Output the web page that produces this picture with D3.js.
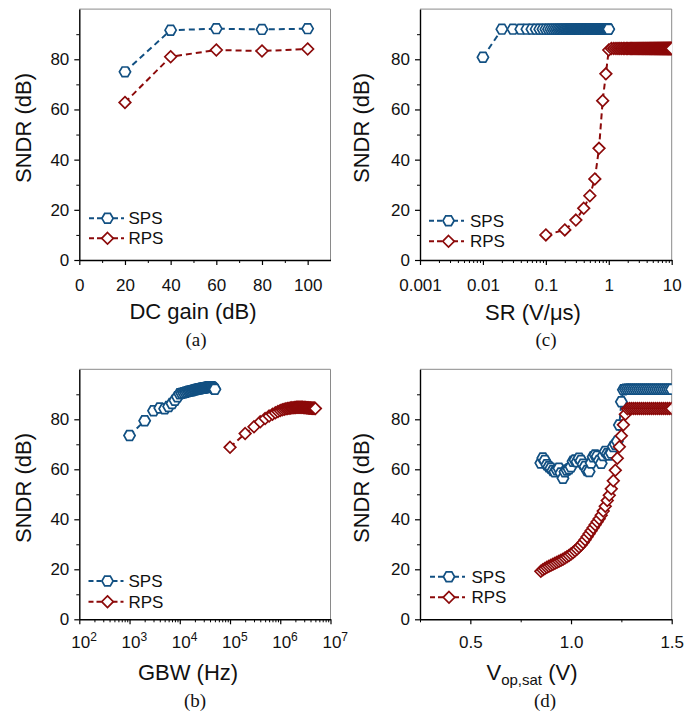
<!DOCTYPE html>
<html><head><meta charset="utf-8">
<script src="https://cdn.jsdelivr.net/npm/d3@7"></script>
<style>body{margin:0;background:#fff}svg{display:block}</style>
</head><body>
<svg id="chart" width="700" height="715"></svg>
<script>
// ---------------- DATA ----------------
const yTickVals = [0, 20, 40, 60, 80];
const yMinorVals = [10, 30, 50, 70, 90];

// (a) DC gain
const dcGain = [20, 40, 60, 80, 100];
const dcSps = [75.0, 91.6, 92.2, 91.9, 92.2];
const dcRps = [62.8, 81.0, 83.7, 83.3, 84.1];
const dcTicks = [0, 20, 40, 60, 80, 100];
const dcMinor = [10, 30, 50, 70, 90];

// (c) slew rate
const srSpsX = [0.01,0.02,0.03,0.04,0.05,0.06,0.07,0.08,0.09,0.10,
  0.11,0.12,0.13,0.14,0.15,0.16,0.17,0.18,0.19,0.20,
  0.21,0.22,0.23,0.24,0.25,0.26,0.27,0.28,0.29,0.30,
  0.31,0.32,0.33,0.34,0.35,0.36,0.37,0.38,0.39,0.40,
  0.41,0.42,0.43,0.44,0.45,0.46,0.47,0.48,0.49,0.50,
  0.51,0.52,0.53,0.54,0.55,0.56,0.57,0.58,0.59,0.60,
  0.61,0.62,0.63,0.64,0.65,0.66,0.67,0.68,0.69,0.70,
  0.71,0.72,0.73,0.74,0.75,0.76,0.77,0.78,0.79,0.80,
  0.81,0.82,0.83,0.84,0.85,0.86,0.87,0.88,0.89,0.90,
  0.91,0.92,0.93,0.94,0.95,0.96,0.97,0.98,0.99,1.00];
const srSpsY = [80.8,92.0,92.0,92.0,92.0,92.0,92.0,92.0,92.0,92.0,
  92.0,92.0,92.0,92.0,92.0,92.0,92.0,92.0,92.0,92.0,
  92.0,92.0,92.0,92.0,92.0,92.0,92.0,92.0,92.0,92.0,
  92.0,92.0,92.0,92.0,92.0,92.0,92.0,92.0,92.0,92.0,
  92.0,92.0,92.0,92.0,92.0,92.0,92.0,92.0,92.0,92.0,
  92.0,92.0,92.0,92.0,92.0,92.0,92.0,92.0,92.0,92.0,
  92.0,92.0,92.0,92.0,92.0,92.0,92.0,92.0,92.0,92.0,
  92.0,92.0,92.0,92.0,92.0,92.0,92.0,92.0,92.0,92.0,
  92.0,92.0,92.0,92.0,92.0,92.0,92.0,92.0,92.0,92.0,
  92.0,92.0,92.0,92.0,92.0,92.0,92.0,92.0,92.0,92.0];
const srRpsX = [0.1,0.2,0.3,0.4,0.5,0.6,0.7,0.8,0.9,1.0,
  1.1,1.2,1.3,1.4,1.5,1.6,1.7,1.8,1.9,2.0,
  2.1,2.2,2.3,2.4,2.5,2.6,2.7,2.8,2.9,3.0,
  3.1,3.2,3.3,3.4,3.5,3.6,3.7,3.8,3.9,4.0,
  4.1,4.2,4.3,4.4,4.5,4.6,4.7,4.8,4.9,5.0,
  5.1,5.2,5.3,5.4,5.5,5.6,5.7,5.8,5.9,6.0,
  6.1,6.2,6.3,6.4,6.5,6.6,6.7,6.8,6.9,7.0,
  7.1,7.2,7.3,7.4,7.5,7.6,7.7,7.8,7.9,8.0,
  8.1,8.2,8.3,8.4,8.5,8.6,8.7,8.8,8.9,9.0,
  9.1,9.2,9.3,9.4,9.5,9.6,9.7,9.8,9.9,10.0];
const srRpsY = [10.0,12.0,15.9,20.6,25.6,32.3,44.5,63.5,74.2,83.7,
  84.3,84.3,84.3,84.3,84.3,84.3,84.3,84.3,84.3,84.3,
  84.3,84.3,84.3,84.3,84.3,84.3,84.3,84.3,84.3,84.3,
  84.3,84.3,84.3,84.3,84.3,84.3,84.3,84.3,84.3,84.3,
  84.3,84.3,84.3,84.3,84.3,84.3,84.3,84.3,84.3,84.3,
  84.3,84.3,84.3,84.3,84.3,84.3,84.3,84.3,84.3,84.3,
  84.3,84.3,84.3,84.3,84.3,84.3,84.3,84.3,84.3,84.3,
  84.3,84.3,84.3,84.3,84.3,84.3,84.3,84.3,84.3,84.3,
  84.3,84.3,84.3,84.3,84.3,84.3,84.3,84.3,84.3,84.3,
  84.3,84.3,84.3,84.3,84.3,84.3,84.3,84.3,84.3,84.3];
const srTicks = [0.001, 0.01, 0.1, 1, 10];
const srTickLabels = ["0.001", "0.01", "0.1", "1", "10"];

// (b) GBW
const gbwSpsX = [1000,2000,3000,4000,5000,6000,7000,8000,9000,10000,
  11000,12000,13000,14000,15000,16000,17000,18000,19000,20000,
  21000,22000,23000,24000,25000,26000,27000,28000,29000,30000,
  31000,32000,33000,34000,35000,36000,37000,38000,39000,40000,
  41000,42000,43000,44000,45000,46000,47000,48000,49000,50000];
const gbwSpsY = [73.5,79.4,83.4,84.5,84.2,85.1,86.3,87.6,89.0,90.2,
  90.4,90.6,90.8,91.0,91.2,91.3,91.4,91.5,91.7,91.8,
  91.9,92.0,92.1,92.2,92.2,92.3,92.4,92.4,92.5,92.5,
  92.6,92.6,92.7,92.7,92.8,92.8,92.9,92.9,93.0,93.0,
  93.0,93.0,92.9,92.9,92.8,92.7,92.5,92.3,92.1,92.0];
const gbwRpsX = [100000,200000,300000,400000,500000,600000,700000,800000,900000,1000000,
  1100000,1200000,1300000,1400000,1500000,1600000,1700000,1800000,1900000,2000000,
  2100000,2200000,2300000,2400000,2500000,2600000,2700000,2800000,2900000,3000000,
  3100000,3200000,3300000,3400000,3500000,3600000,3700000,3800000,3900000,4000000,
  4100000,4200000,4300000,4400000,4500000,4600000,4700000,4800000,4900000,5000000];
const gbwRpsY = [68.8,74.3,77.0,79.0,80.3,81.3,82.0,82.6,83.1,83.5,
  83.8,84.0,84.2,84.3,84.4,84.5,84.6,84.6,84.7,84.7,
  84.8,84.8,84.8,84.8,84.8,84.8,84.8,84.8,84.7,84.7,
  84.7,84.7,84.6,84.6,84.6,84.6,84.5,84.5,84.5,84.5,
  84.5,84.4,84.4,84.4,84.4,84.4,84.4,84.4,84.4,84.3];
const gbwTicks = [1e2, 1e3, 1e4, 1e5, 1e6, 1e7];
const gbwExp = ["2", "3", "4", "5", "6", "7"];

// (d) Vop,sat
const vopX = [0.85,0.86,0.87,0.88,0.89,0.90,0.91,0.92,0.93,0.94,
  0.95,0.96,0.97,0.98,0.99,1.00,1.01,1.02,1.03,1.04,
  1.05,1.06,1.07,1.08,1.09,1.10,1.11,1.12,1.13,1.14,
  1.15,1.16,1.17,1.18,1.19,1.20,1.21,1.22,1.23,1.24,
  1.25,1.26,1.27,1.28,1.29,1.30,1.31,1.32,1.33,1.34,
  1.35,1.36,1.37,1.38,1.39,1.40,1.41,1.42,1.43,1.44,
  1.45,1.46,1.47,1.48,1.49,1.50];
const vopSps = [62.5,64.5,63.5,61.8,61.0,60.4,59.5,59.0,59.8,60.4,
  58.5,56.4,59.0,59.7,60.2,61.0,63.2,63.7,63.0,64.4,
  63.5,62.0,61.1,59.5,59.1,62.5,65.0,65.7,65.2,63.5,
  62.4,65.5,67.1,66.2,65.7,66.5,69.1,70.0,71.2,77.7,
  87.0,91.8,92.0,92.0,92.0,92.0,92.0,92.0,92.0,92.0,
  92.0,92.0,92.0,92.0,92.0,92.0,92.0,92.0,92.0,92.0,
  92.0,92.0,92.0,92.0,92.0,92.0];
const vopRps = [19.2,19.8,20.3,20.8,21.2,21.6,22.0,22.4,22.8,23.2,
  23.6,24.0,24.5,25.0,25.5,26.1,26.7,27.4,28.1,28.9,
  29.7,30.7,31.8,33.0,34.2,35.4,36.6,37.8,39.0,40.2,
  41.6,43.3,45.2,47.5,49.6,52.2,55.4,59.6,64.4,69.0,
  73.4,77.8,82.0,84.2,84.3,84.3,84.3,84.3,84.3,84.3,
  84.3,84.3,84.3,84.3,84.3,84.3,84.3,84.3,84.3,84.3,
  84.3,84.3,84.3,84.3,84.3,84.3];
const vopTicks = [0.5, 1.0, 1.5];
const vopTickLabels = ["0.5", "1.0", "1.5"];
const vopMinor = [0.25, 0.75, 1.25];

// ---------------- DRAWING ----------------
const BLUE = "#125082", RED = "#8c0a0a";
const SANS = "'Liberation Sans', Arial, sans-serif";
const SERIF = "'Liberation Serif', 'Times New Roman', serif";
const TICK_FS = 17, TITLE_FS = 22;
const svg = d3.select("#chart");

function hexPath(r) {
  const pts = d3.range(6).map(i => [r * Math.cos(i * Math.PI / 3), r * Math.sin(i * Math.PI / 3)]);
  return "M" + pts.map(p => p.join(",")).join("L") + "Z";
}
function diaPath(s) { return `M0,${-s}L${s},0L0,${s}L${-s},0Z`; }
const HEX = hexPath(5.6), DIA = diaPath(5.8);

const panels = [
  { id: "a", xr: [79.3, 330.5], yr: [260, 9.1], scale: d3.scaleLinear().domain([0, 110]),
    major: dcTicks, minor: dcMinor, fmt: d => String(d),
    sps: [dcGain, dcSps], rps: [dcGain, dcRps],
    title: "DC gain (dB)", tx: 193, ty: 319.3, cap: "(a)", cx: 196, cy: 346,
    lx: [89, 124], lm: 107.5, lt: 128.5, ly: [218.3, 238.3], yl: [31, 128] },
  { id: "c", xr: [420, 671.7], yr: [260, 9.1], scale: d3.scaleLog().domain([0.001, 10]),
    major: srTicks, minor: "log", fmt: (d, i) => srTickLabels[i],
    sps: [srSpsX, srSpsY], rps: [srRpsX, srRpsY],
    title: "SR (V/\u03bcs)", tx: 533, ty: 320, cap: "(c)", cx: 546, cy: 346,
    lx: [429, 464], lm: 448.5, lt: 470, ly: [220.7, 241.3], yl: [369, 128] },
  { id: "b", xr: [79.3, 330.5], yr: [619.3, 369.3], scale: d3.scaleLog().domain([1e2, 1e7]),
    major: gbwTicks, minor: "log", fmt: (d, i) => "10|" + gbwExp[i],
    sps: [gbwSpsX, gbwSpsY], rps: [gbwRpsX, gbwRpsY],
    title: "GBW (Hz)", tx: 188, ty: 680, cap: "(b)", cx: 195, cy: 707,
    lx: [88.5, 123.5], lm: 107.5, lt: 128.5, ly: [581, 601.7], yl: [31, 488] },
  { id: "d", xr: [420, 671.7], yr: [619.3, 369.3], scale: d3.scaleLinear().domain([0.25, 1.5]),
    major: vopTicks, minor: vopMinor, fmt: (d, i) => vopTickLabels[i],
    sps: [vopX, vopSps], rps: [vopX, vopRps],
    title: null, tx: 532, ty: 680, cap: "(d)", cx: 545, cy: 707,
    lx: [430, 465], lm: 449, lt: 471.5, ly: [576.7, 597.3], yl: [369, 488] }
];

panels.forEach(p => {
  const x = p.scale.range(p.xr);
  const y = d3.scaleLinear().domain([0, 100]).range(p.yr);
  const g = svg.append("g");
  const [X0, X1] = p.xr, [Y0, Y1] = p.yr;

  // frame (top/right in grey)
  g.append("line").attr("x1", X0).attr("x2", X1).attr("y1", Y1).attr("y2", Y1)
    .attr("stroke", "#8a8a8a").attr("stroke-width", 1);
  g.append("line").attr("x1", X1).attr("x2", X1).attr("y1", Y1).attr("y2", Y0)
    .attr("stroke", "#8a8a8a").attr("stroke-width", 1);

  // minor ticks
  let minorVals = p.minor;
  if (p.minor === "log") {
    minorVals = x.ticks().filter(v => {
      const l = Math.log10(v);
      return Math.abs(l - Math.round(l)) > 1e-6;
    });
  }
  const xMinorAxis = d3.axisBottom(x).tickValues(minorVals).tickSize(3).tickSizeOuter(0).tickFormat("");
  g.append("g").attr("transform", `translate(0,${Y0})`).call(xMinorAxis)
    .call(s => s.select(".domain").remove())
    .selectAll("line").attr("stroke", "#000").attr("stroke-width", 1);

  const yMinorAxis = d3.axisLeft(y).tickValues(yMinorVals).tickSize(3).tickSizeOuter(0).tickFormat("");
  g.append("g").attr("transform", `translate(${X0},0)`).call(yMinorAxis)
    .call(s => s.select(".domain").remove())
    .selectAll("line").attr("stroke", "#000").attr("stroke-width", 1);

  // major x axis
  const xAxis = d3.axisBottom(x).tickValues(p.major).tickSize(5).tickSizeOuter(0)
    .tickPadding(Y0 > 400 ? 11.9 : 13.6).tickFormat(p.fmt);
  const gx = g.append("g").attr("transform", `translate(0,${Y0})`).call(xAxis);
  gx.select(".domain").attr("stroke", "#000").attr("stroke-width", 1.4);
  gx.selectAll("line").attr("stroke", "#000").attr("stroke-width", 1.2);
  gx.selectAll("text").attr("font-family", SANS).attr("font-size", TICK_FS).attr("fill", "#111")
    .each(function() {
      const t = d3.select(this);
      const s = t.text();
      if (s.includes("|")) {
        const [base, ex] = s.split("|");
        t.text(null);
        t.append("tspan").text(base);
        t.append("tspan").text(ex).attr("font-size", 12).attr("dy", "-0.62em");
        t.attr("dx", "0.25em");
      }
    });

  // major y axis
  const yAxis = d3.axisLeft(y).tickValues(yTickVals).tickSize(5).tickSizeOuter(0).tickPadding(5)
    .tickFormat(d => String(d));
  const gy = g.append("g").attr("transform", `translate(${X0},0)`).call(yAxis);
  gy.select(".domain").attr("stroke", "#000").attr("stroke-width", 1.4);
  gy.selectAll("line").attr("stroke", "#000").attr("stroke-width", 1.2);
  gy.selectAll("text").attr("font-family", SANS).attr("font-size", TICK_FS).attr("fill", "#111");

  // clip
  const clipId = "clip-" + p.id;
  svg.append("clipPath").attr("id", clipId).append("rect")
    .attr("x", X0).attr("y", Y1).attr("width", X1 - X0).attr("height", Y0 - Y1);
  const plot = g.append("g").attr("clip-path", `url(#${clipId})`);

  const line = d3.line().x(d => x(d[0])).y(d => y(d[1]));
  const series = [
    { xs: p.sps[0], ys: p.sps[1], color: BLUE, shape: HEX },
    { xs: p.rps[0], ys: p.rps[1], color: RED, shape: DIA }
  ];
  series.forEach(s => {
    const pts = s.xs.map((v, i) => [v, s.ys[i]]);
    plot.append("path").attr("d", line(pts)).attr("fill", "none")
      .attr("stroke", s.color).attr("stroke-width", 2).attr("stroke-dasharray", "6,4");
    plot.selectAll(null).data(pts).enter().append("path")
      .attr("d", s.shape)
      .attr("transform", d => `translate(${x(d[0])},${y(d[1])})`)
      .attr("fill", "#fff").attr("stroke", s.color).attr("stroke-width", 1.7);
  });

  // legend
  const leg = [
    { label: "SPS", color: BLUE, shape: HEX },
    { label: "RPS", color: RED, shape: DIA }
  ];
  leg.forEach((l, i) => {
    const ly = p.ly[i];
    g.append("line").attr("x1", p.lx[0]).attr("x2", p.lx[1]).attr("y1", ly).attr("y2", ly)
      .attr("stroke", l.color).attr("stroke-width", 2).attr("stroke-dasharray", "5,3");
    g.append("path").attr("d", l.shape).attr("transform", `translate(${p.lm},${ly})`)
      .attr("fill", "#fff").attr("stroke", l.color).attr("stroke-width", 1.7);
    g.append("text").attr("x", p.lt).attr("y", ly).attr("dy", "0.36em")
      .attr("font-family", SANS).attr("font-size", TICK_FS).attr("fill", "#111").text(l.label);
  });

  // axis titles
  const xt = g.append("text").attr("x", p.tx).attr("y", p.ty).attr("text-anchor", "middle")
    .attr("font-family", SANS).attr("font-size", TITLE_FS).attr("fill", "#111");
  if (p.title) xt.text(p.title);
  else {
    xt.append("tspan").text("V");
    xt.append("tspan").text("op,sat").attr("font-size", 15).attr("dy", 5);
    xt.append("tspan").text(" (V)").attr("dy", -5);
  }
  g.append("text").attr("transform", `translate(${p.yl[0]},${p.yl[1]}) rotate(-90)`)
    .attr("text-anchor", "middle").attr("font-family", SANS).attr("font-size", TITLE_FS)
    .attr("fill", "#111").text("SNDR (dB)");

  // caption
  g.append("text").attr("x", p.cx).attr("y", p.cy).attr("text-anchor", "middle")
    .attr("font-family", SERIF).attr("font-size", 19).attr("fill", "#111").text(p.cap);
});
</script>
</body></html>
